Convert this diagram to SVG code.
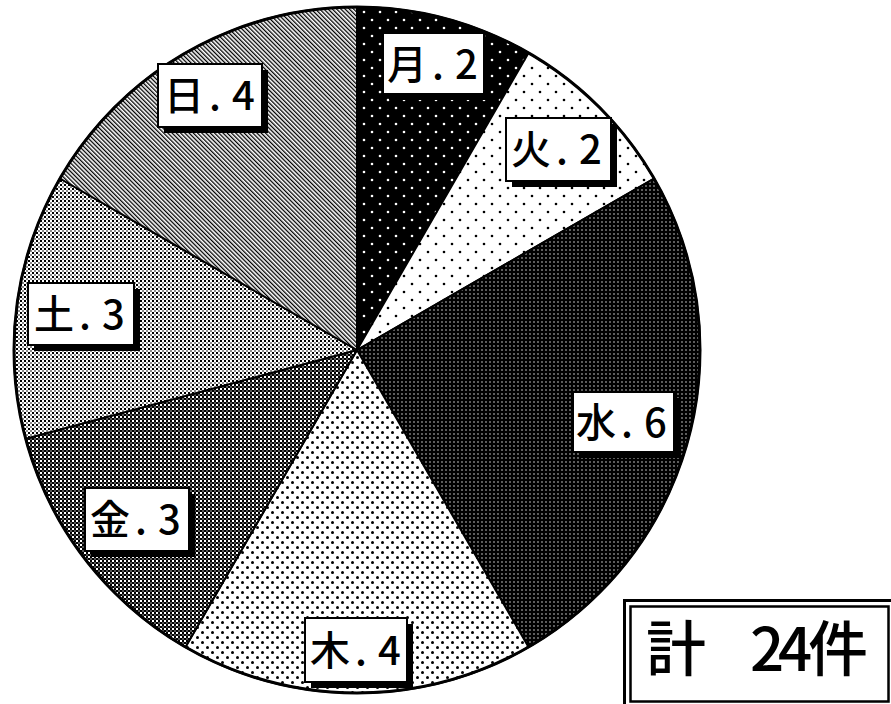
<svg xmlns="http://www.w3.org/2000/svg" width="891" height="704" viewBox="0 0 891 704">
<style>
.sl{stroke:#000;stroke-width:2;stroke-linejoin:round}
.box{fill:#fff;stroke:#000;stroke-width:2}
.sh{fill:#000}
.lb{font-family:"Noto Sans CJK JP","Noto Sans CJK SC",sans-serif;font-size:40px;font-weight:500;fill:#000}
.tot{font-family:"Noto Sans CJK JP","Noto Sans CJK SC",sans-serif;font-size:60px;font-weight:500;fill:#000}
</style>
<defs>
<pattern id="pMon" width="16" height="16" patternUnits="userSpaceOnUse">
<rect width="16" height="16" fill="#000"/>
<circle cx="4" cy="4" r="1.3" fill="#fff"/>
<circle cx="12" cy="12" r="1.3" fill="#fff"/>
</pattern>
<pattern id="pTue" width="16" height="16" patternUnits="userSpaceOnUse">
<rect width="16" height="16" fill="#fff"/>
<circle cx="4" cy="4" r="1.3" fill="#000"/>
<circle cx="12" cy="12" r="1.3" fill="#000"/>
</pattern>
<pattern id="pWed" width="4" height="4" patternUnits="userSpaceOnUse">
<rect width="4" height="4" fill="#000"/>
<circle cx="2" cy="2" r="0.7" fill="#fff"/>
</pattern>
<pattern id="pThu" width="10" height="10" patternUnits="userSpaceOnUse">
<rect width="10" height="10" fill="#fff"/>
<circle cx="2.5" cy="2.5" r="1.5" fill="#000"/>
<circle cx="7.5" cy="7.5" r="1.5" fill="#000"/>
</pattern>
<pattern id="pFri" width="4" height="4" patternUnits="userSpaceOnUse">
<rect width="4" height="4" fill="#000"/>
<rect x="0" y="0" width="2" height="2" fill="#fff"/>
<rect x="2" y="2" width="2" height="2" fill="#555"/>
</pattern>
<pattern id="pSat" width="4" height="4" patternUnits="userSpaceOnUse">
<rect width="4" height="4" fill="#fff"/>
<rect x="0" y="0" width="2" height="2" fill="#000"/>
<rect x="2" y="2" width="2" height="2" fill="#8a8a8a"/>
</pattern>
<pattern id="pSun" width="3" height="3" patternUnits="userSpaceOnUse" patternTransform="rotate(-45)">
<rect width="3" height="3" fill="#fff"/>
<rect width="1.3" height="3" fill="#000"/>
</pattern>
</defs>
<rect width="891" height="704" fill="#fff"/>
<g id="pie">
<g id="slice-mon"><path class="sl" fill="url(#pMon)" d="M357,350 L357,7 A343,343 0 0 1 528.5,52.95 Z"/></g>
<g id="slice-tue"><path class="sl" fill="url(#pTue)" d="M357,350 L528.5,52.95 A343,343 0 0 1 654.05,178.5 Z"/></g>
<g id="slice-wed"><path class="sl" fill="url(#pWed)" d="M357,350 L654.05,178.5 A343,343 0 0 1 528.5,647.05 Z"/></g>
<g id="slice-thu"><path class="sl" fill="url(#pThu)" d="M357,350 L528.5,647.05 A343,343 0 0 1 185.5,647.05 Z"/></g>
<g id="slice-fri"><path class="sl" fill="url(#pFri)" d="M357,350 L185.5,647.05 A343,343 0 0 1 25.7,438.78 Z"/></g>
<g id="slice-sat"><path class="sl" fill="url(#pSat)" d="M357,350 L25.7,438.78 A343,343 0 0 1 59.95,178.5 Z"/></g>
<g id="slice-sun"><path class="sl" fill="url(#pSun)" d="M357,350 L59.95,178.5 A343,343 0 0 1 357,7 Z"/></g>
<circle cx="357" cy="350" r="343" fill="none" stroke="#000" stroke-width="3"/>
</g>
<g id="label-mon">
<rect class="sh" x="389" y="39" width="101" height="61"/>
<rect class="box" x="383" y="33" width="101" height="61"/>
<text class="lb" x="387 432 455" y="79">月.2</text>
</g>
<g id="label-tue">
<rect class="sh" x="512" y="124" width="105" height="63"/>
<rect class="box" x="506" y="118" width="105" height="63"/>
<text class="lb" x="511 556 579" y="164">火.2</text>
</g>
<g id="label-wed">
<rect class="sh" x="579" y="398" width="101" height="60"/>
<rect class="box" x="573" y="392" width="101" height="60"/>
<text class="lb" x="576 621 644" y="437">水.6</text>
</g>
<g id="label-thu">
<rect class="sh" x="311" y="624" width="102" height="64"/>
<rect class="box" x="305" y="618" width="102" height="64"/>
<text class="lb" x="310 355 378" y="665">木.4</text>
</g>
<g id="label-fri">
<rect class="sh" x="91" y="494" width="104" height="63"/>
<rect class="box" x="85" y="488" width="104" height="63"/>
<text class="lb" x="90 135 158" y="534">金.3</text>
</g>
<g id="label-sat">
<rect class="sh" x="34" y="289" width="106" height="62"/>
<rect class="box" x="28" y="283" width="106" height="62"/>
<text class="lb" x="34 79 102" y="329">土.3</text>
</g>
<g id="label-sun">
<rect class="sh" x="164" y="70" width="104" height="63"/>
<rect class="box" x="158" y="64" width="104" height="63"/>
<text class="lb" x="164 209 232" y="110">日.4</text>
</g>
<g id="total">
<rect x="624.5" y="600.5" width="280" height="120" fill="#fff" stroke="#000" stroke-width="3"/>
<rect x="630.5" y="606.5" width="258" height="95" fill="none" stroke="#000" stroke-width="2.5"/>
<text class="tot" x="646 706 750 778 808" y="671">計　24件</text>
</g>
</svg>
